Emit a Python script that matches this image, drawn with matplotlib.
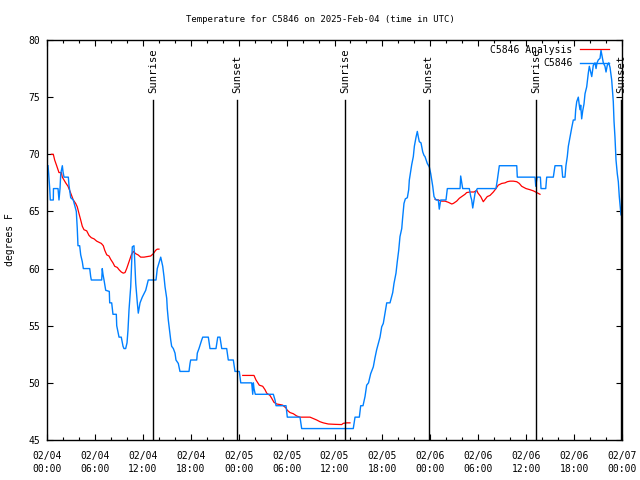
import numpy as np
import matplotlib
matplotlib.use("Agg")
import matplotlib.pyplot as plt
from matplotlib.ticker import MultipleLocator

title = "Temperature for C5846 on 2025-Feb-04 (time in UTC)"
ylabel = "degrees F"

# hours since 02/04 00:00 UTC
obs_h = [0.13, 0.21, 0.34, 0.41, 0.79, 0.81, 1.38, 1.50, 1.63, 1.72, 1.92, 2.00, 2.13, 2.67, 2.75, 2.97,
         3.29, 3.67, 3.79, 3.88, 4.09, 4.22, 4.42, 4.55, 5.35, 5.47, 5.55, 6.85, 6.92, 7.01, 7.14, 7.35,
         7.80, 7.85, 8.10, 8.26, 8.68, 8.73, 9.02, 9.30, 9.52, 9.64, 9.85, 10.02, 10.14, 10.27, 10.48,
         10.56, 10.68, 10.89, 10.98, 11.11, 11.31, 11.43, 11.65, 11.93, 12.36, 12.68, 13.65, 13.74, 13.81,
         14.06, 14.24, 14.49, 14.65, 14.78, 14.99, 15.06, 15.19, 15.31, 15.49, 15.61, 15.82, 16.03, 16.15,
         16.44, 16.65, 17.78, 17.91, 17.99, 18.75, 18.82, 19.03, 19.37, 19.50, 20.20, 20.41, 21.16, 21.38,
         21.66, 21.88, 22.50, 22.70, 23.33, 23.54, 24.08, 24.26, 25.63, 25.76, 25.84, 25.92, 26.08, 28.34,
         28.55, 28.68, 29.93, 30.09, 31.68, 31.89, 38.35, 38.57, 39.11, 39.28, 39.57, 39.82, 40.03, 40.26,
         40.53, 40.86, 41.07, 41.28, 41.70, 41.91, 42.11, 42.32, 42.54, 42.95, 43.29, 43.45, 43.70, 43.86,
         44.04, 44.20, 44.42, 44.54, 44.70, 44.87, 45.12, 45.29, 45.37, 45.54, 45.67, 45.87, 46.00, 46.21,
         46.37, 46.50, 46.62, 46.83, 47.05, 47.21, 47.33, 47.62, 47.87, 48.05, 48.30, 48.46, 48.71, 49.00,
         49.12, 49.30, 49.96, 50.13, 51.72, 51.80, 51.93, 52.05, 52.88, 53.06, 53.18, 53.31, 53.47, 53.60,
         53.88, 56.22, 56.39, 56.64, 58.82, 58.89, 61.11, 61.20, 61.37, 61.78, 61.86, 62.45, 62.57, 63.40,
         63.61, 64.45, 64.57, 64.86, 64.98, 65.15, 65.28, 65.49, 65.70, 65.90, 66.12, 66.20, 66.33, 66.53,
         66.65, 66.74, 66.83, 66.95, 67.08, 67.24, 67.37, 67.58, 67.78, 67.91, 68.08, 68.21, 68.41, 68.62,
         68.75, 68.87, 69.03, 69.25, 69.37, 69.50, 69.66, 69.87, 70.00, 70.16, 70.34, 70.50, 70.71, 70.91,
         71.00, 71.12, 71.25, 71.41, 71.54, 71.66, 71.75, 71.87]
obs_t = [69, 68.3, 67, 66, 66, 67, 67, 66, 67, 68.3, 69, 68.5, 68, 68, 67.3, 66.2,
         66, 65, 63.5, 62, 62, 61.2, 60.6, 60, 60, 59.3, 59, 59, 60, 59.5, 59, 58.1,
         58, 57, 57, 56, 56, 55, 54, 54, 53.2, 53, 53, 53.5, 54.6, 56.4, 58.4,
         59.9, 61.9, 62, 60.75, 58.7, 57, 56.1, 57, 57.5, 58.1, 59, 59, 59.6, 60,
         60.6, 61, 60.2, 59.3, 58.4, 57.4, 56.5, 55.5, 54.8, 53.75, 53.2, 53, 52.6, 52,
         51.7, 51, 51, 51.7, 52, 52, 52.6, 53, 53.75, 54, 54, 53, 53, 54,
         54, 53, 53, 52, 52, 51, 51, 50, 50, 49, 50, 49.5, 49, 49,
         48.5, 48, 48, 47, 47, 46, 46, 47, 47, 48, 48, 48.8, 49.8, 50,
         50.8, 51.4, 52.2, 52.9, 54, 54.9, 55.2, 56.1, 57, 57, 57.9, 58.7, 59.6, 60.6,
         61.6, 62.8, 63.5, 64.5, 65.7, 66.1, 66.2, 66.9, 67.75, 68.5, 69.1, 69.8, 70.7, 71.5,
         72, 71.5, 71.1, 71, 70.2, 69.9, 69.8, 69.2, 68.9, 68.3, 67.2, 66.3, 66, 66,
         65.2, 66, 66, 67, 67, 68.1, 67.5, 67, 67, 66.3, 66, 65.3, 66, 66.6,
         67, 67, 67.75, 69, 69, 68, 68, 67.2, 68, 68, 67, 67, 68, 68,
         69, 69, 68, 68, 69, 69.8, 70.7, 71.5, 72.3, 73, 73, 73.9, 74.6, 75,
         74.3, 73.9, 74.3, 73.1, 73.8, 74.4, 75.3, 75.9, 77.1, 77.7, 77.2, 76.8, 77.8, 78,
         77.5, 78, 78.25, 78.4, 79.1, 78.6, 78, 77.7, 77.2, 77.8, 78, 77.6, 76.5, 74.6,
         72.9, 71.5, 69.5, 68.3, 67.6, 66.3, 65.6, 64.7]

nan = float("nan")
ana_h = [0.54, 0.79, 0.96, 1.21, 1.50, 1.79, 1.92, 2.13, 2.34, 2.63, 2.97, 3.29, 3.59, 3.79, 4.01, 4.22,
         4.42, 4.63, 4.97, 5.26, 5.55, 5.89, 6.22, 6.51, 6.80, 7.05, 7.23, 7.48, 7.76, 7.98, 8.26, 8.48,
         8.80, 9.02, 9.30, 9.55, 9.77, 9.98, 10.27, 10.56, 10.81, 11.11, 11.40, 11.73, 12.15, 12.56, 12.99,
         13.31, 13.61, 13.81, 14.02, nan,
         24.51, 25.92, 26.17, 26.58, 27.01, 27.30, 27.51, 27.92, 28.14, 28.42, 28.76, 29.18, 29.51, 29.93,
         30.09, 30.43, 30.84, 31.27, 31.68, 32.93, 33.27, 33.77, 34.18, 34.60, 35.22, 36.06, 36.90, 37.10,
         37.53, 37.94, nan,
         48.59, 49.00, 49.42, 49.84, 50.25, 50.68, 50.88, 51.30, 51.63, 51.93, 52.34, 52.55, 52.97, 53.47,
         53.81, 53.97, 54.31, 54.63, 54.85, 55.13, 55.47, 55.89, 56.22, 56.51, 56.94, 57.35, 57.64, 57.98,
         58.39, 58.82, 59.14, 59.44, 59.98, 60.48, 60.90, 61.32, 61.73]
ana_t = [70, 70, 69.5, 69, 68.4, 68.4, 68, 67.75, 67.5, 67.2, 66.6, 66, 65.7, 65.4, 64.8, 64.25,
         63.7, 63.4, 63.3, 62.9, 62.7, 62.6, 62.4, 62.3, 62.2, 62, 61.6, 61.2, 61.1, 60.8, 60.5, 60.2,
         60.1, 59.9, 59.7, 59.6, 59.65, 60, 60.6, 61.2, 61.5, 61.3, 61.2, 61, 61, 61.05, 61.1,
         61.3, 61.6, 61.7, 61.7, nan,
         50.65, 50.65, 50.25, 49.8, 49.7, 49.4, 49.1, 48.9, 48.65, 48.3, 48.15, 48.1, 48.05, 47.8,
         47.6, 47.4, 47.3, 47.1, 47, 47, 46.9, 46.75, 46.6, 46.5, 46.4, 46.37, 46.35, 46.46,
         46.5, 46.5, nan,
         66.06, 66.0, 65.9, 65.9, 65.8, 65.65, 65.7, 65.9, 66.15, 66.3, 66.5, 66.65, 66.7, 66.7,
         66.85, 66.6, 66.3, 65.85, 66.05, 66.3, 66.4, 66.7, 67, 67.3, 67.45, 67.5, 67.6, 67.65,
         67.65, 67.6, 67.45, 67.2, 67, 66.9, 66.8, 66.65, 66.5]

sun_h = [13.27, 23.79, 37.30, 47.80, 61.20, 71.90]
sun_labels = ["Sunrise", "Sunset", "Sunrise", "Sunset", "Sunrise", "Sunset"]

tick_h = list(range(0, 73, 6))
tick_labels = ["02/04\n00:00", "02/04\n06:00", "02/04\n12:00", "02/04\n18:00",
               "02/05\n00:00", "02/05\n06:00", "02/05\n12:00", "02/05\n18:00",
               "02/06\n00:00", "02/06\n06:00", "02/06\n12:00", "02/06\n18:00", "02/07\n00:00"]

plt.rcParams['font.family'] = ['DejaVu Sans Mono']
FS = 7

fig = plt.figure(figsize=(6.4, 4.8), dpi=100)
ax = fig.add_axes([47/640, 1-440/480, 575/640, 400/480])

ax.plot(ana_h, ana_t, color="#ff0000", lw=0.9, label="C5846 Analysis")
ax.plot(obs_h, obs_t, color="#0080ff", lw=1.0, label="C5846")

for h, lab in zip(sun_h, sun_labels):
    ax.plot([h, h], [45, 74.75], color="black", lw=1.0)
    ax.text(h, 75.35, lab, rotation=90, ha="center", va="bottom", fontsize=7.6)

ax.set_xlim(0, 72)
ax.set_ylim(45, 80)
ax.set_xticks(tick_h)
ax.set_xticklabels(tick_labels, fontsize=FS, linespacing=1.3)
ax.xaxis.set_minor_locator(MultipleLocator(2))
ax.set_yticks(range(45, 81, 5))
ax.tick_params(axis="y", labelsize=FS, pad=5)
ax.tick_params(axis="x", pad=8)
ax.tick_params(which="major", direction="in", length=4, width=0.8, top=True, right=True)
ax.tick_params(which="minor", direction="in", length=2, width=0.8, top=True, right=True)
for s in ax.spines.values():
    s.set_linewidth(1.0)

fig.text(320/640, 1-19/480, title, ha="center", va="center", fontsize=6.5)
fig.text(10/640, 0.5, ylabel, rotation=90, ha="center", va="center", fontsize=FS)

leg = ax.legend(loc="upper right", bbox_to_anchor=(1.0 - 3/575, 1.0 + 5/400), frameon=False,
                markerfirst=False, fontsize=FS, handlelength=3.0, handletextpad=0.8,
                labelspacing=0.35, borderaxespad=0.9, borderpad=0.1)

fig.savefig("out.png", dpi=100)
